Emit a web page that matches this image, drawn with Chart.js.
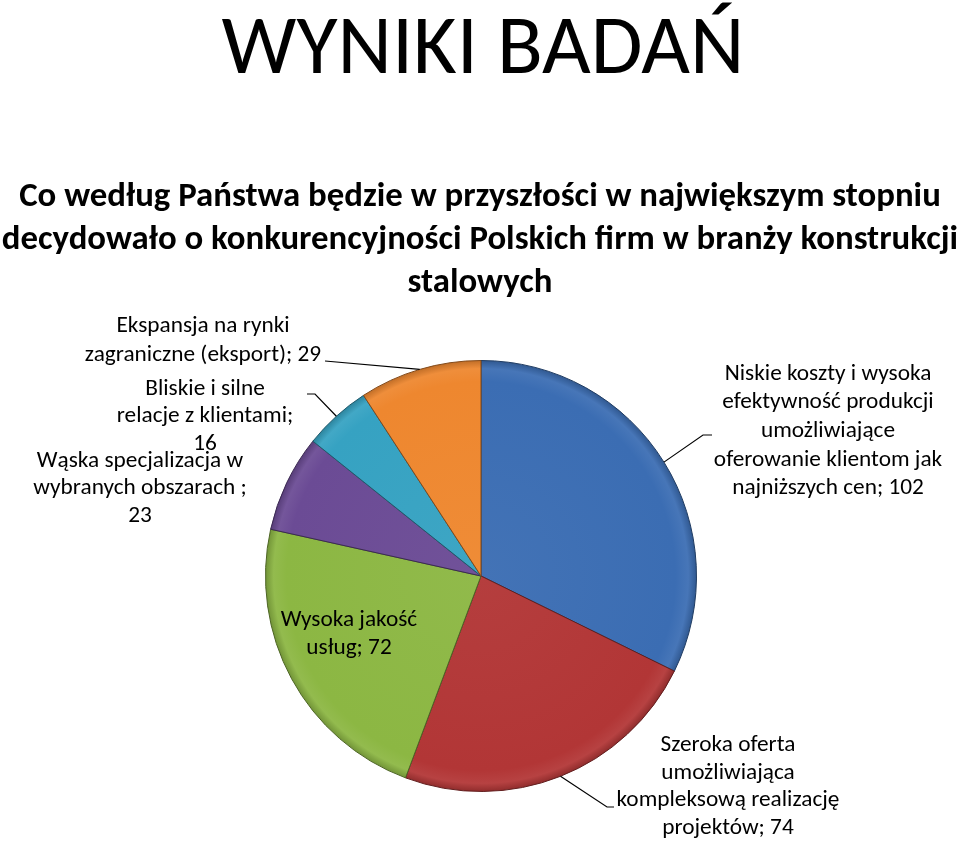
<!DOCTYPE html>
<html lang="pl">
<head>
<meta charset="utf-8">
<title>Wyniki badań</title>
<script src="https://cdn.jsdelivr.net/npm/chart.js@4.4.1/dist/chart.umd.min.js"></script>
<style>
  html, body { margin: 0; padding: 0; background: #fff; }
  #wrap { width: 960px; height: 841px; }
</style>
</head>
<body>
<div id="wrap"><canvas id="wyniki" width="960" height="841"></canvas></div>
<script>
// Data
const pageTitle = 'WYNIKI BADAŃ';
const questionLines = [
  'Co według Państwa będzie w przyszłości w największym stopniu',
  'decydowało o konkurencyjności Polskich firm w branży konstrukcji',
  'stalowych',
];
// categories (line breaks as on the slide)
const categories = [
  'Niskie koszty i wysoka\nefektywność produkcji\numożliwiające\noferowanie klientom jak\nnajniższych cen',
  'Szeroka oferta\numożliwiająca\nkompleksową realizację\nprojektów',
  'Wysoka jakość\nusług',
  'Wąska specjalizacja w\nwybranych obszarach ',
  'Bliskie i silne\nrelacje z klientami',
  'Ekspansja na rynki\nzagraniczne (eksport)',
];
const answers = [102, 74, 72, 23, 16, 29];
const sliceColors = ['#3b6db3', '#b23636', '#8cb743', '#6b4b95', '#36a2c2', '#ee872f'];

const FONT = 'Carlito, Calibri, Lato, "Open Sans", sans-serif';

// where each data label sits: centre x, first line y, line height,
// whether the value goes to its own line, and the bend of the leader line
const labelLayout = [
  { x: 828, y: 374, lh: 28.6, own: false, leader: [[703, 435], [712, 435]] },
  { x: 728, y: 745, lh: 27.8, own: false, leader: [[607, 807], [614, 807]] },
  { x: 349, y: 620, lh: 28, own: false, leader: null },
  { x: 140, y: 461, lh: 27.5, own: true, leader: null },
  { x: 205, y: 389, lh: 27.5, own: true, leader: [[315, 394], [307, 394]] },
  { x: 203, y: 326, lh: 29.5, own: false, leader: [[325, 361]] },
];

function shade(hex, f) {
  const n = parseInt(hex.slice(1), 16);
  let r = (n >> 16) & 255, g = (n >> 8) & 255, b = n & 255;
  const m = (c) => Math.round(f < 0 ? c * (1 + f) : c + (255 - c) * f);
  return `rgb(${m(r)}, ${m(g)}, ${m(b)})`;
}

// pick a font size so that the given text is as wide as on the slide
function fitFont(ctx, text, weight, width, start) {
  let size = start;
  ctx.font = `${weight} ${size}px ${FONT}`;
  size = size * width / ctx.measureText(text).width;
  return Math.round(size * 10) / 10;
}

const slideText = {
  id: 'slideText',
  afterDraw(chart) {
    const { ctx } = chart;
    ctx.save();
    ctx.fillStyle = '#000';
    ctx.textAlign = 'center';
    ctx.textBaseline = 'alphabetic';

    // big title
    const ts = fitFont(ctx, pageTitle, 300, 523, 72);
    ctx.font = `300 ${ts}px ${FONT}`;
    ctx.fillText(pageTitle, 483, 73);

    // question
    const qs = fitFont(ctx, questionLines[1], 'bold', 956, 28);
    ctx.font = `bold ${qs}px ${FONT}`;
    questionLines.forEach((line, i) => {
      ctx.fillText(line, 480, 206 + i * 43);
    });

    // data labels with leader lines
    const ls = fitFont(ctx, 'kompleksową realizację', 'normal', 223, 19);
    ctx.font = `normal ${ls}px ${FONT}`;
    ctx.textBaseline = 'middle';
    const meta = chart.getDatasetMeta(0);
    meta.data.forEach((arc, i) => {
      const lay = labelLayout[i];
      const text = categories[i] + ';' + (lay.own ? '\n' : ' ') + answers[i];
      text.split('\n').forEach((line, j) => {
        ctx.fillText(line, lay.x, lay.y + j * lay.lh);
      });
      if (lay.leader) {
        const { x, y, startAngle, endAngle, outerRadius } =
          arc.getProps(['x', 'y', 'startAngle', 'endAngle', 'outerRadius'], true);
        const mid = (startAngle + endAngle) / 2;
        ctx.beginPath();
        ctx.moveTo(x + Math.cos(mid) * outerRadius, y + Math.sin(mid) * outerRadius);
        lay.leader.forEach(([px, py]) => ctx.lineTo(px, py));
        ctx.strokeStyle = '#000';
        ctx.lineWidth = 1.2;
        ctx.stroke();
      }
    });
    ctx.restore();
  },
};

const ctx = document.getElementById('wyniki');
const chart = new Chart(ctx, {
  type: 'pie',
  data: {
    labels: categories.map(c => c.replace(/\n/g, ' ').trim()),
    datasets: [{
      data: answers,
      // slight darkening at the rim, like the Office bevel
      backgroundColor: (c) => {
        const base = sliceColors[c.dataIndex];
        const area = c.chart.chartArea;
        if (!area) return base;
        const cx = (area.left + area.right) / 2;
        const cy = (area.top + area.bottom) / 2;
        const r = Math.min(area.width, area.height) / 2;
        const g = c.chart.ctx.createRadialGradient(cx, cy, 0, cx, cy, r);
        g.addColorStop(0, shade(base, 0.04));
        g.addColorStop(0.9, base);
        g.addColorStop(0.96, shade(base, 0.06));
        g.addColorStop(1, shade(base, -0.2));
        return g;
      },
      borderColor: sliceColors.map(c => shade(c, -0.45)),
      borderWidth: 1,
      hoverOffset: 0,
      offset: 0,
    }],
  },
  options: {
    responsive: false,
    animation: false,
    devicePixelRatio: 1,
    layout: {
      padding: { top: 360, bottom: 49, left: 265, right: 263 },
    },
    plugins: {
      legend: { display: false },
      title: { display: false },
      tooltip: { enabled: false },
    },
  },
  plugins: [slideText],
});
</script>
</body>
</html>
